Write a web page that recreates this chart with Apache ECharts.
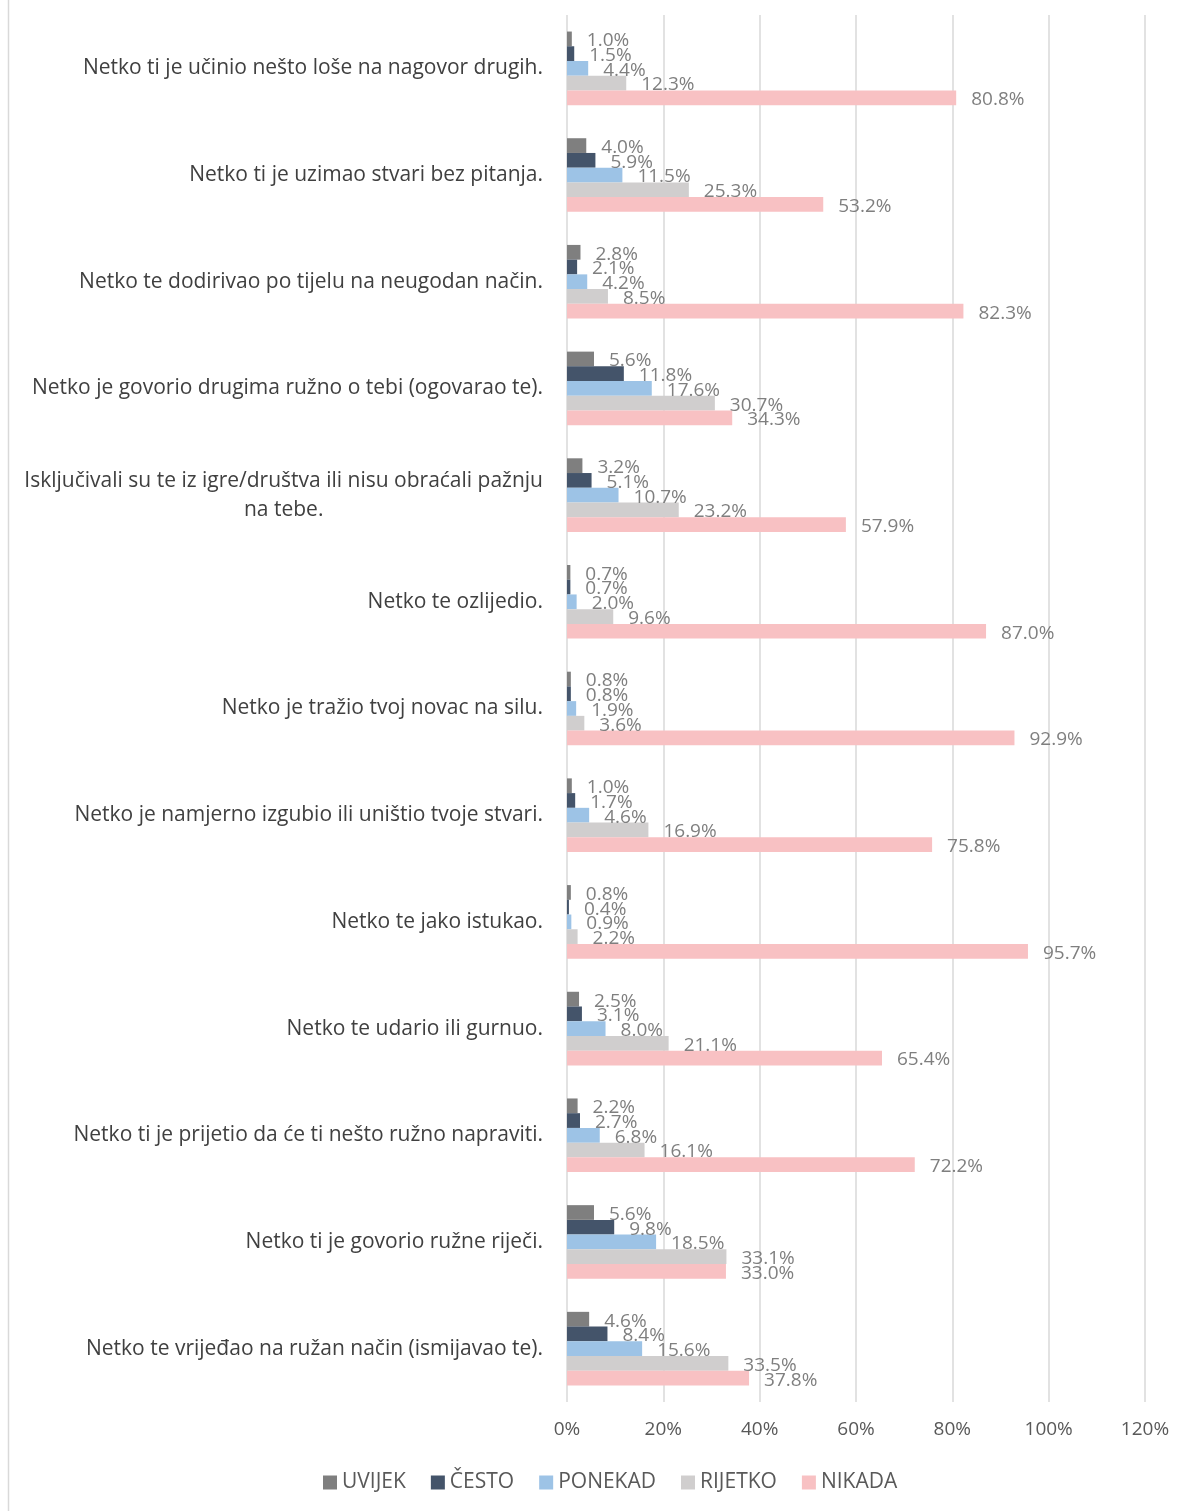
<!DOCTYPE html>
<html>
<head>
<meta charset="utf-8">
<script src="https://cdn.jsdelivr.net/npm/echarts@6/dist/echarts.min.js"></script>
<style>
  html, body { margin: 0; padding: 0; background: #fff; }
  #chart { width: 1184px; height: 1511px; }
</style>
</head>
<body>
<div id="chart"></div>
<script>
// pitanja (odozgo prema dolje)
const categories = [
  'Netko ti je učinio nešto loše na nagovor drugih.',
  'Netko ti je uzimao stvari bez pitanja.',
  'Netko te dodirivao po tijelu na neugodan način.',
  'Netko je govorio drugima ružno o tebi (ogovarao te).',
  'Isključivali su te iz igre/društva ili nisu obraćali pažnju na tebe.',
  'Netko te ozlijedio.',
  'Netko je tražio tvoj novac na silu.',
  'Netko je namjerno izgubio ili uništio tvoje stvari.',
  'Netko te jako istukao.',
  'Netko te udario ili gurnuo.',
  'Netko ti je prijetio da će ti nešto ružno napraviti.',
  'Netko ti je govorio ružne riječi.',
  'Netko te vrijeđao na ružan način (ismijavao te).'
]
const seriesNames = ['UVIJEK', 'ČESTO', 'PONEKAD', 'RIJETKO', 'NIKADA']
const uvijek  = [1.0, 4.0, 2.8, 5.6, 3.2, 0.7, 0.8, 1.0, 0.8, 2.5, 2.2, 5.6, 4.6]
const cesto   = [1.5, 5.9, 2.1, 11.8, 5.1, 0.7, 0.8, 1.7, 0.4, 3.1, 2.7, 9.8, 8.4]
const ponekad = [4.4, 11.5, 4.2, 17.6, 10.7, 2.0, 1.9, 4.6, 0.9, 8.0, 6.8, 18.5, 15.6]
const rijetko = [12.3, 25.3, 8.5, 30.7, 23.2, 9.6, 3.6, 16.9, 2.2, 21.1, 16.1, 33.1, 33.5]
const nikada  = [80.8, 53.2, 82.3, 34.3, 57.9, 87.0, 92.9, 75.8, 95.7, 65.4, 72.2, 33.0, 37.8]
const colors = ['#7f7f7f', '#44546a', '#9dc3e6', '#d0cece', '#f8c1c3']

const font = '"Open Sans", "Noto Sans", sans-serif'

// prelamanje predugih naziva (kao u Excelu, centrirano)
function wrapLabel (text) {
  const maxLen = 59
  const words = text.split(' ')
  const lines = []
  let line = ''
  words.forEach((w) => {
    if (line && (line + ' ' + w).length > maxLen) {
      lines.push(line)
      line = w
    } else {
      line = line ? line + ' ' + w : w
    }
  })
  lines.push(line)
  return lines.map((l) => '{c|' + l + '}').join('\n')
}

const chart = echarts.init(document.getElementById('chart'))

const allData = [uvijek, cesto, ponekad, rijetko, nikada]
const series = seriesNames.map((name, i) => {
  return {
    name: name,
    type: 'bar',
    data: allData[i],
    barGap: 0,
    barCategoryGap: '31%',
    itemStyle: { color: colors[i] },
    label: {
      show: true,
      position: 'right',
      distance: 15,
      offset: [0, 2],
      color: '#7f7f7f',
      fontSize: 19,
      fontFamily: font,
      formatter: (p) => p.value.toFixed(1) + '%'
    }
  }
})

chart.setOption({
  animation: false,
  color: colors,
  grid: {
    left: 567,
    right: 39,
    top: 15,
    bottom: 109,
    containLabel: false
  },
  legend: {
    data: seriesNames,
    left: 318,
    top: 1467,
    itemWidth: 14,
    itemHeight: 14,
    itemGap: 25,
    icon: 'rect',
    textStyle: { color: '#595959', fontSize: 21, fontFamily: font }
  },
  xAxis: {
    type: 'value',
    min: 0,
    max: 120,
    interval: 20,
    axisLine: { show: false },
    axisTick: { show: false },
    axisLabel: {
      formatter: '{value}%',
      color: '#595959',
      fontSize: 19,
      fontFamily: font,
      margin: 18
    },
    splitLine: { lineStyle: { color: '#d9d9d9', width: 1.5 } }
  },
  yAxis: {
    type: 'category',
    inverse: true,
    data: categories,
    axisLine: { show: false },
    axisTick: { show: false },
    axisLabel: {
      color: '#404040',
      fontSize: 21,
      fontFamily: font,
      margin: 24,
      formatter: wrapLabel,
      rich: {
        c: { align: 'center', color: '#404040', fontSize: 21, fontFamily: font, lineHeight: 29 }
      }
    }
  },
  graphic: [
    {
      type: 'line',
      shape: { x1: 8.5, y1: 0, x2: 8.5, y2: 1511 },
      style: { stroke: '#d9d9d9', lineWidth: 1.5 }
    }
  ],
  series: series
})
</script>
</body>
</html>
